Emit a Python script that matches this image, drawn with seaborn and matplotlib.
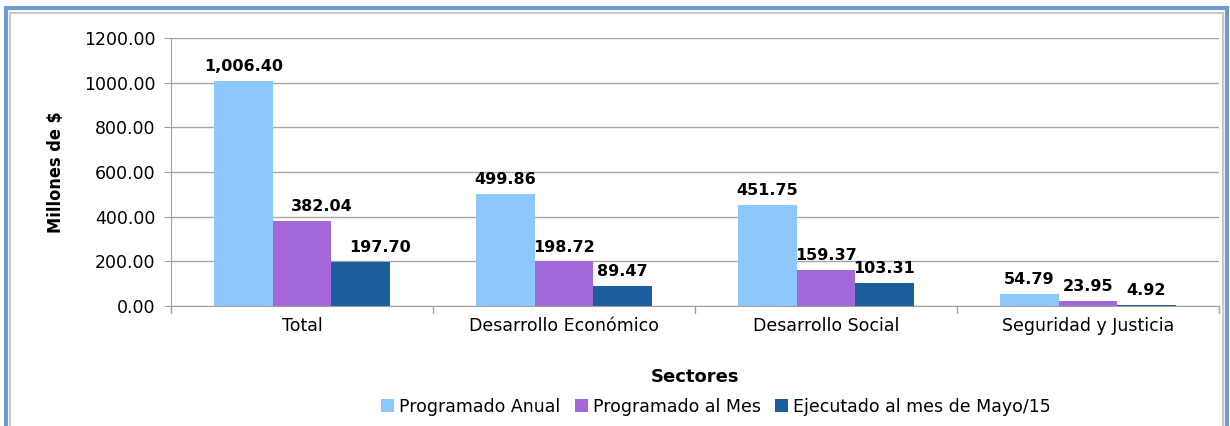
import pandas as pd
import matplotlib
matplotlib.use("Agg")
import matplotlib.pyplot as plt
from matplotlib.patches import Rectangle
import seaborn as sns

# data
sectores = ['Total', 'Desarrollo Económico', 'Desarrollo Social', 'Seguridad y Justicia']
programado_anual = [1006.40, 499.86, 451.75, 54.79]
programado_mes = [382.04, 198.72, 159.37, 23.95]
ejecutado_mayo = [197.70, 89.47, 103.31, 4.92]
series = ['Programado Anual', 'Programado al Mes', 'Ejecutado al mes de Mayo/15']
colores = ['#8CC8FC', '#A367D9', '#1A5E9E']
y_ticks = [0, 200, 400, 600, 800, 1000, 1200]

rows = []
for serie, vals in zip(series, [programado_anual, programado_mes, ejecutado_mayo]):
    for s, v in zip(sectores, vals):
        rows.append({'Sector': s, 'Serie': serie, 'Valor': v})
df = pd.DataFrame(rows)

sns.set_style("white")
plt.rcParams['font.family'] = ['DejaVu Sans']
plt.rcParams['text.color'] = 'black'
plt.rcParams['axes.labelcolor'] = 'black'

fig = plt.figure(figsize=(12.3, 4.26), dpi=100)
ax = fig.add_axes([0.139, 0.282, 0.852, 0.629])

sns.barplot(data=df, x='Sector', y='Valor', hue='Serie', palette=colores,
            saturation=1, width=0.67, gap=0, linewidth=0, ax=ax, legend=True)

# value labels above the bars
for i, cont in enumerate(ax.containers):
    anns = ax.bar_label(cont, fmt='{:,.2f}', padding=5, fontsize=11.5,
                        fontweight='bold', color='black')
    # in the original, the Total labels of the 2nd and 3rd series sit a bit to the right
    if i > 0:
        anns[0].xyann = (14, anns[0].xyann[1])

ax.set_ylim(0, 1200)
ax.set_yticks(y_ticks)
ax.set_yticklabels([f'{t:.2f}' for t in y_ticks], fontsize=12.5)
ax.set_xlim(-0.5, len(sectores) - 0.5)
ax.tick_params(axis='x', length=0, labelsize=12.5, pad=8, labelcolor='black')
ax.tick_params(axis='y', length=5, color='#A0A0A0', left=True, pad=6, labelcolor='black')
ax.grid(axis='y', color='#A6A6A6', linewidth=1)
ax.set_axisbelow(True)

# x tick marks between categories
for xb in [i - 0.5 for i in range(len(sectores) + 1)]:
    ax.plot([xb, xb], [0, -0.025], transform=ax.get_xaxis_transform(),
            color='#A0A0A0', lw=1, clip_on=False)

for side in ['top', 'right']:
    ax.spines[side].set_visible(False)
for side in ['left', 'bottom']:
    ax.spines[side].set_color('#A0A0A0')

ax.set_ylabel('Millones de $', fontsize=13, fontweight='bold', fontstretch='condensed')
ax.yaxis.set_label_coords(-0.101, 0.5)
ax.set_xlabel('Sectores', fontsize=13, fontweight='bold', labelpad=24)

leg = ax.legend(loc='upper center', bbox_to_anchor=(0.52, -0.285), ncol=3, frameon=False,
                fontsize=12.5, handlelength=0.75, handleheight=0.75,
                handletextpad=0.3, columnspacing=0.8, title=None)

# chart frame
fig.patches.append(Rectangle((6 / 1230, -0.1), 1221 / 1230, 1.1 - 8 / 426,
                             transform=fig.transFigure, fill=False,
                             edgecolor='#6F9BD2', linewidth=3))
fig.patches.append(Rectangle((10 / 1230, -0.1), 1213 / 1230, 1.1 - 13 / 426,
                             transform=fig.transFigure, fill=False,
                             edgecolor='#C8C8C8', linewidth=1.5))

fig.savefig('out.png', dpi=100)
